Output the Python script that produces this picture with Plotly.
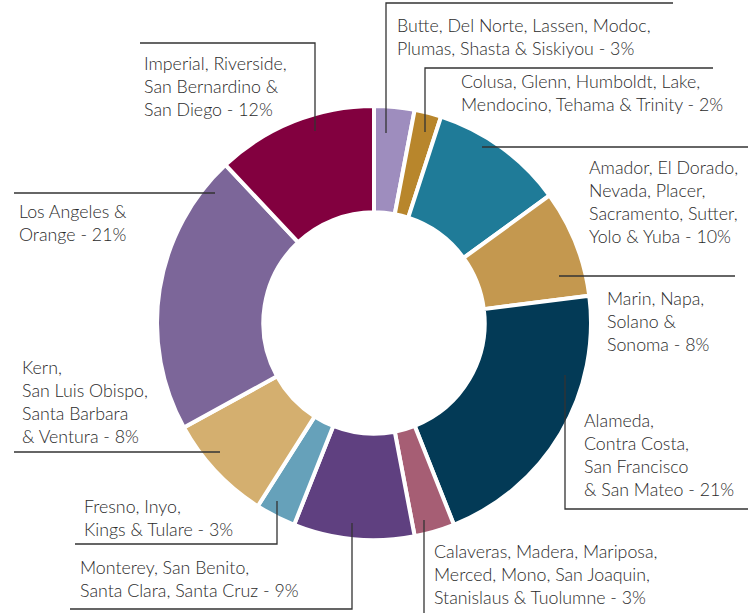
import plotly.graph_objects as go

W, H = 748, 613

regions = [
    "Butte, Del Norte, Lassen, Modoc,<br>Plumas, Shasta & Siskiyou",
    "Colusa, Glenn, Humboldt, Lake,<br>Mendocino, Tehama & Trinity",
    "Amador, El Dorado,<br>Nevada, Placer,<br>Sacramento, Sutter,<br>Yolo & Yuba",
    "Marin, Napa,<br>Solano &<br>Sonoma",
    "Alameda,<br>Contra Costa,<br>San Francisco<br>& San Mateo",
    "Calaveras, Madera, Mariposa,<br>Merced, Mono, San Joaquin,<br>Stanislaus & Tuolumne",
    "Monterey, San Benito,<br>Santa Clara, Santa Cruz",
    "Fresno, Inyo,<br>Kings & Tulare",
    "Kern,<br>San Luis Obispo,<br>Santa Barbara<br>& Ventura",
    "Los Angeles &<br>Orange",
    "Imperial, Riverside,<br>San Bernardino &<br>San Diego",
]
shares = [3, 2, 10, 8, 21, 3, 9, 3, 8, 21, 12]
colors = ["#9E8DBE", "#B8862C", "#1F7B98", "#C4984F", "#033A56", "#A65E74",
          "#5F4080", "#66A1BA", "#D4AF6F", "#7C6699", "#82003F"]

# label layout (pixels): text anchor (left x, block centre y) and leader polyline
label_pos = [
    (395, 37), (459, 92), (587, 202), (605, 321), (582, 454),
    (432, 574), (78, 578), (82, 517), (20, 401), (17, 222), (142, 86),
]
leaders = [
    [(386, 133), (386, 3), (673, 3)],
    [(425, 132), (425, 68), (713, 68)],
    [(482, 147), (760, 147)],
    [(559, 276), (735, 276)],
    [(565, 375), (565, 509), (760, 509)],
    [(424, 520), (424, 620)],
    [(352, 523), (352, 609), (70, 609)],
    [(277, 501), (277, 544), (75, 544)],
    [(220, 452), (14, 452)],
    [(215, 193), (14, 193)],
    [(315, 131), (315, 43), (140, 43)],
]

def px(x):
    return x / W

def py(y):
    return 1 - y / H

cx, cy, r = 374, 323, 217

fig = go.Figure(go.Pie(
    labels=[t.replace("<br>", " ") for t in regions],
    values=shares,
    sort=False,
    direction="clockwise",
    rotation=0,
    hole=0.51,
    marker=dict(colors=colors, line=dict(color="white", width=4)),
    textinfo="none",
    hoverinfo="label+percent",
    showlegend=False,
    domain=dict(x=[px(cx - r), px(cx + r)], y=[py(cy + r), py(cy - r)]),
))

shapes = []
for pts in leaders:
    path = "M " + " L ".join(f"{px(x)},{py(y)}" for x, y in pts)
    shapes.append(dict(type="path", xref="paper", yref="paper", path=path,
                       line=dict(color="#333333", width=1.3)))

annotations = []
for txt, v, (x, y) in zip(regions, shares, label_pos):
    annotations.append(dict(
        x=px(x), y=py(y), xref="paper", yref="paper",
        xanchor="left", yanchor="middle", align="left",
        text=f"{txt} - {v}%", showarrow=False,
        font=dict(family="Lato, sans-serif", size=17.8, color="#2b2b2b",
                  weight=300),
    ))

fig.update_layout(
    width=W, height=H,
    margin=dict(l=0, r=0, t=0, b=0),
    paper_bgcolor="white", plot_bgcolor="white",
    shapes=shapes, annotations=annotations,
)

fig.write_html("out.html")
